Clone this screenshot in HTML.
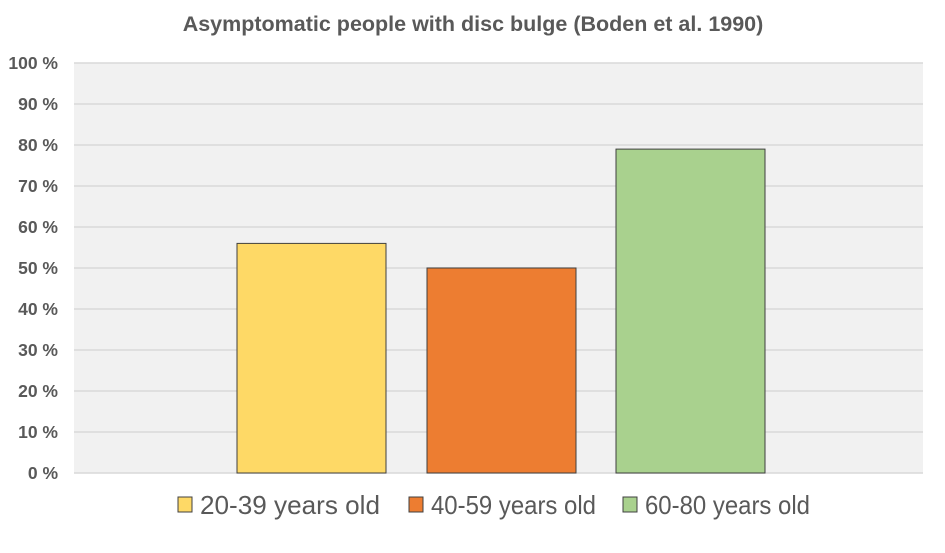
<!DOCTYPE html>
<html><head><meta charset="utf-8"><style>
body{margin:0;background:#fff;width:945px;height:548px;overflow:hidden;font-family:"Liberation Sans",Arial,sans-serif}
</style></head><body>
<svg width="945" height="548">
<text x="473" y="31" text-anchor="middle" font-size="21.5" font-weight="bold" fill="#595959">Asymptomatic people with disc bulge (Boden et al. 1990)</text>
<rect x="74" y="63" width="849" height="410" fill="#f1f1f1"/>
<g id="grid"></g><g id="bars"></g><g id="legend"></g>
</svg>
<script>
const categories=["20-39 years old","40-59 years old","60-80 years old"];
const values=[56,50,79];
const colors=["#fed966","#ed7d31","#a9d18e"];
const ticks=[0,10,20,30,40,50,60,70,80,90,100];
const NS="http://www.w3.org/2000/svg";
const y0=473,y1=63;
function y(v){return y0-(y0-y1)*v/100;}
const barX=[237,427,616],barW=149;
function mk(t,a,p){const e=document.createElementNS(NS,t);for(const k in a)e.setAttribute(k,a[k]);p.appendChild(e);return e;}
const g=document.getElementById('grid');
ticks.forEach(t=>{
 const l=mk('line',{x1:74,x2:923,y1:y(t),y2:y(t),stroke:'#d9d9d9','stroke-width':1.5},g);
 
 
 const tx=mk('text',{x:58,y:y(t)+6,'text-anchor':'end','font-size':17.5,'font-weight':'bold',fill:'#595959'},g);
 tx.textContent=t+' %';
 
 
});
const b=document.getElementById('bars');
values.forEach((v,i)=>{
 const r=mk('rect',{x:barX[i],y:y(v),width:barW,height:y0-y(v),fill:colors[i],stroke:'#404040','stroke-width':1},b);
 
 
});
const lg=document.getElementById('legend');
const lx=[178,409,623];
categories.forEach((c,i)=>{
 const r=mk('rect',{x:lx[i],y:497,width:14,height:15,fill:colors[i],stroke:'#404040','stroke-width':1},lg);
 
 
 const t=mk('text',{x:lx[i]+22,y:514,'font-size':26,fill:'#595959',textLength:i==0?180:165,lengthAdjust:'spacingAndGlyphs'},lg);
 t.textContent=c;
 
 
});
</script>
</body></html>
